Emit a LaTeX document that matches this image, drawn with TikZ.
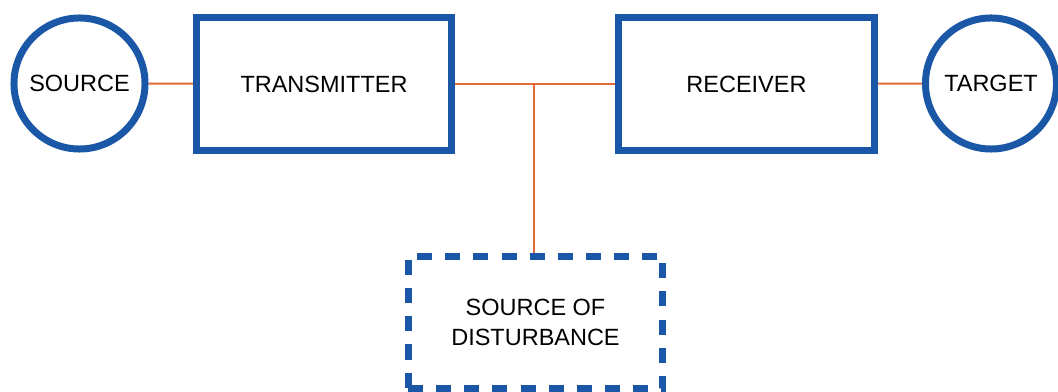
\documentclass[tikz,border=0pt]{standalone}
\usepackage{fontspec}
\setmainfont{Liberation Sans}
\usepackage{xcolor}
\usetikzlibrary{positioning}
\usetikzlibrary{backgrounds}

\definecolor{boxblue}{HTML}{1A58A7}
\definecolor{wireorange}{HTML}{E06A3A}

\begin{document}
\begin{tikzpicture}[x=0.025cm, y=-0.025cm,
    font=\fontsize{16.7}{21.3}\selectfont,
    endpoint/.style={circle, draw=boxblue, line width=0.175cm, minimum size=3.275cm, inner sep=0pt},
    block/.style={rectangle, draw=boxblue, line width=0.175cm, minimum width=6.375cm, minimum height=3.325cm, inner sep=0pt},
    noise/.style={rectangle, draw=boxblue, line width=0.175cm, dash pattern=on 0.375cm off 0.325cm, minimum width=6.35cm, minimum height=3.3cm, inner sep=0pt, align=center},
    wire/.style={wireorange, line width=1.4pt}]
    \useasboundingbox (0,0) rectangle (1058,392);
    \node [endpoint] (src) at (79.5,83.5) {SOURCE};
    \node [block] (tx) at (324,84) {TRANSMITTER};
    \node [block] (rx) at (746.5,84) {RECEIVER};
    \node [endpoint] (tgt) at (991,83.5) {TARGET};
    \node [noise] (dist) at (535.5,322.5) {SOURCE OF\\DISTURBANCE};
    \coordinate (tap) at (534,84);
    \begin{scope}[on background layer]
      \draw [wire] (src) -- (tx);
      \draw [wire] (tx) -- (rx);
      \draw [wire] (rx) -- (tgt);
      \draw [wire] (tap) -- (tap |- dist.north);
    \end{scope}
  \end{tikzpicture}
\end{document}
